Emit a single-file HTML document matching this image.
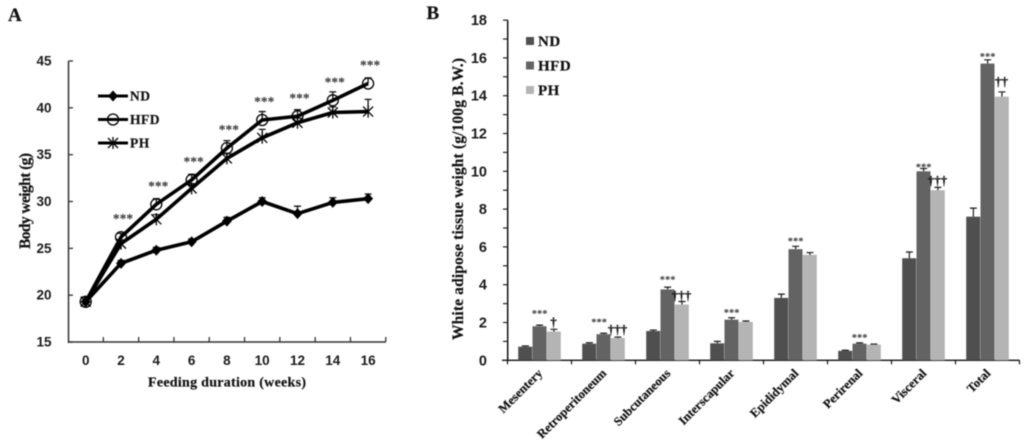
<!DOCTYPE html>
<html lang="en">
<head>
<meta charset="utf-8">
<title>Body weight and white adipose tissue weight charts</title>
<style>
html,body{margin:0;padding:0;background:#fff;width:1024px;height:444px;overflow:hidden}
svg{display:block;filter:blur(.4px)}
.tick{font:bold 13.5px "Liberation Sans",sans-serif;fill:#1a1a1a}
.serif{font-family:"Liberation Serif",serif;font-weight:bold;fill:#111;stroke:#111;stroke-width:.2px}
</style>
</head>
<body>
<svg id="figure" width="1024" height="444" viewBox="0 0 1024 444" xmlns="http://www.w3.org/2000/svg">
  <text class="serif" x="8" y="21" font-size="19">A</text>
  <text class="serif" x="426.5" y="19" font-size="19">B</text>
  <g id="chartA"></g>
  <g id="chartB"></g>
  <text class="serif" x="148" y="386.5" font-size="14" textLength="158">Feeding duration (weeks)</text>
  <text class="serif" transform="translate(30,249) rotate(-90)" font-size="15.5" textLength="96">Body weight (g)</text>
  <text class="serif" transform="translate(463,340) rotate(-90)" font-size="15.5" textLength="282">White adipose tissue weight (g/100g B.W.)</text>
</svg>
<script>
/* Panel A data */
const weeks = [0, 2, 4, 6, 8, 10, 12, 14, 16];
const weightTicks = [15, 20, 25, 30, 35, 40, 45];
const weightND = [19.3, 23.4, 24.8, 25.7, 27.9, 30.0, 28.7, 29.9, 30.3];
const weightHFD = [19.3, 26.2, 29.7, 32.3, 35.7, 38.7, 39.1, 40.8, 42.6];
const weightPH = [19.3, 25.5, 28.1, 31.4, 34.6, 36.8, 38.4, 39.5, 39.6];
const weightErrND = [0.5, 0.3, 0.3, 0.3, 0.4, 0.4, 0.8, 0.5, 0.5];
const weightErrHFD = [0.5, 0.4, 0.6, 0.6, 0.8, 0.9, 0.7, 0.9, 0.6];
const weightErrPH = [0.5, 0.4, 0.5, 0.5, 0.5, 0.9, 0.5, 0.6, 1.3];
const weightSig = ['', '***', '***', '***', '***', '***', '***', '***', '***'];

/* Panel B data */
const depots = ['Mesentery', 'Retroperitoneum', 'Subcutaneous', 'Interscapular', 'Epididymal', 'Perirenal', 'Visceral', 'Total'];
const fatTicks = [0, 2, 4, 6, 8, 10, 12, 14, 16, 18];
const fatND = [0.72, 0.88, 1.55, 0.9, 3.3, 0.5, 5.4, 7.6];
const fatHFD = [1.8, 1.38, 3.75, 2.15, 5.88, 0.88, 10.0, 15.7];
const fatPH = [1.52, 1.18, 2.95, 2.03, 5.58, 0.83, 9.0, 13.95];
const fatErrND = [0.04, 0.05, 0.05, 0.1, 0.2, 0.03, 0.33, 0.45];
const fatErrHFD = [0.06, 0.05, 0.12, 0.1, 0.15, 0.04, 0.15, 0.2];
const fatErrPH = [0.12, 0.05, 0.16, 0.05, 0.12, 0.03, 0.15, 0.25];
const fatSigHFD = ['***', '***', '***', '***', '***', '***', '***', '***'];
const fatSigPH = ['†', '†††', '†††', '', '', '', '†††', '††'];

const NS = 'http://www.w3.org/2000/svg';
function mk(parent, tag, attrs, txt) {
  const el = document.createElementNS(NS, tag);
  for (const k in attrs) el.setAttribute(k, attrs[k]);
  if (txt !== undefined) el.textContent = txt;
  parent.appendChild(el);
  return el;
}

/* ---------- Panel A ---------- */
const A = document.getElementById('chartA');
const ax = w => 85.7 + w * 17.65;
const ay = v => 342 - (v - 15) * 9.367;
const axisCol = '#333';

let el = mk(A, 'line', {x1: 68.5, x2: 68.5, y1: ay(45), y2: ay(15) + 1, stroke: axisCol, 'stroke-width': 1.5});


el = mk(A, 'line', {x1: 68, x2: ax(17), y1: ay(15), y2: ay(15), stroke: axisCol, 'stroke-width': 1.5});



weightTicks.forEach(t => {
  el = mk(A, 'line', {x1: 68.5, x2: 73, y1: ay(t), y2: ay(t), stroke: axisCol, 'stroke-width': 1.3});
  
  
  el = mk(A, 'text', {class: 'tick', x: 51.5, y: ay(t) + 4.5, 'text-anchor': 'end'}, t);
  
  
});
weeks.forEach(w => {
  el = mk(A, 'line', {x1: ax(w + 1), x2: ax(w + 1), y1: ay(15), y2: ay(15) - 5, stroke: axisCol, 'stroke-width': 1.3});
  
  
  el = mk(A, 'text', {class: 'tick', x: ax(w), y: 365, 'text-anchor': 'middle'}, w);
  
  
});

function marker(parent, kind, cx, cy) {
  if (kind === 'ND') {
    return mk(parent, 'polygon', {points: [[cx, cy - 5.5], [cx + 5, cy], [cx, cy + 5.5], [cx - 5, cy]].map(p => p.join(',')).join(' '), fill: '#000'});
  }
  if (kind === 'HFD') {
    return mk(parent, 'circle', {cx: cx, cy: cy, r: 5.5, fill: 'none', stroke: '#000', 'stroke-width': 1.3});
  }
  const d = `M${cx - 5} ${cy - 5}L${cx + 5} ${cy + 5}M${cx - 5} ${cy + 5}L${cx + 5} ${cy - 5}M${cx} ${cy - 6}V${cy + 6}`;
  return mk(parent, 'path', {d: d, fill: 'none', stroke: '#000', 'stroke-width': 1.3});
}

function series(kind, vals, errs) {
  const g = mk(A, 'g', {});
  
  
  vals.forEach((v, i) => {
    const x = ax(weeks[i]), top = ay(v + errs[i]);
    const e = mk(g, 'path', {d: `M${x} ${ay(v)}V${top}M${x - 3.5} ${top}H${x + 3.5}`, fill: 'none', stroke: '#111', 'stroke-width': 1.3});
    
    
  });
  const line = mk(g, 'polyline', {points: vals.map((v, i) => ax(weeks[i]) + ',' + ay(v)).join(' '), fill: 'none', stroke: '#000', 'stroke-width': 3.6, 'stroke-linejoin': 'round'});
  
  
  vals.forEach((v, i) => {
    const m = marker(g, kind, ax(weeks[i]), ay(v));
    
    
  });
}
series('ND', weightND, weightErrND);
series('HFD', weightHFD, weightErrHFD);
series('PH', weightPH, weightErrPH);

weightSig.forEach((s, i) => {
  if (!s) return;
  el = mk(A, 'text', {class: 'serif', x: ax(weeks[i]) + 2, y: ay(weightHFD[i]) - 14, 'font-size': 13.5, 'text-anchor': 'middle', style: 'fill:#333;stroke:none'}, s);
  
  
});

[['ND', 96], ['HFD', 119.5], ['PH', 143]].forEach(r => {
  const g = mk(A, 'g', {});
  
  
  mk(g, 'line', {x1: 98, x2: 128, y1: r[1], y2: r[1], stroke: '#000', 'stroke-width': 3});
  marker(g, r[0], 113, r[1]);
  mk(g, 'text', {class: 'serif', x: 130, y: r[1] + 4.5, 'font-size': 13.5, 'letter-spacing': .5}, r[0]);
});

/* ---------- Panel B ---------- */
const B = document.getElementById('chartB');
const bx = i => 507.5 + i * 64;
const by = v => 360.3 - v * 18.9;
const barW = 14.3;
const barCols = ['#4f4f4f', '#636363', '#b4b4b4'];
const starLift = [13, 13, 9, 7, 7, 7, 3, 5];
const daggerLift = [7, 7, 5.5, 0, 0, 0, 6.4, 10];
const starShift = [0, -4.5, 0, 0, 0, 0, 0, 0];

el = mk(B, 'line', {x1: 507.7, x2: 507.7, y1: by(18), y2: by(0) + 1, stroke: '#111', 'stroke-width': 1.5});


el = mk(B, 'line', {x1: 502, x2: bx(8), y1: by(0), y2: by(0), stroke: '#111', 'stroke-width': 1.4});



for (let v = 1; v <= 18; v += 2) {
  el = mk(B, 'line', {x1: 503, x2: 507.7, y1: by(v), y2: by(v), stroke: '#222', 'stroke-width': 1.2});
  
  
}
fatTicks.forEach(t => {
  el = mk(B, 'line', {x1: 503, x2: 507.7, y1: by(t), y2: by(t), stroke: '#222', 'stroke-width': 1.2});
  
  
  el = mk(B, 'text', {class: 'tick', x: 487, y: by(t) + 5, 'text-anchor': 'end', style: 'font-size:14.5px'}, t);
  
  
});
for (let i = 0; i <= depots.length; i++) {
  el = mk(B, 'line', {x1: bx(i), x2: bx(i), y1: by(0), y2: by(0) + 4, stroke: '#111', 'stroke-width': 1.2});
  
  
}

const fatSeries = [fatND, fatHFD, fatPH];
const fatErrs = [fatErrND, fatErrHFD, fatErrPH];
const seriesNames = ['nd', 'hfd', 'ph'];
depots.forEach((d, i) => {
  const g = mk(B, 'g', {});
  
  
  const start = bx(i) + 10.7;
  fatSeries.forEach((vals, s) => {
    const x = start + s * barW, v = vals[i], c = x + barW / 2, top = by(v + fatErrs[s][i]);
    const r = mk(g, 'rect', {x: x, y: by(v), width: barW - .3, height: by(0) - by(v), fill: barCols[s]});
    
    
    const e = mk(g, 'path', {d: `M${c} ${by(v)}V${top}M${c - 3.5} ${top}H${c + 3.5}`, fill: 'none', stroke: '#1a1a1a', 'stroke-width': 1.2});
    
    
  });
  const cHfd = start + 1.5 * barW, cPh = start + 2.5 * barW;
  if (fatSigHFD[i]) {
    el = mk(g, 'text', {class: 'serif', x: cHfd + starShift[i], y: by(fatHFD[i] + fatErrHFD[i]) - starLift[i] + 5, 'font-size': 10.5, 'text-anchor': 'middle', style: 'fill:#333;stroke:none'}, fatSigHFD[i]);
    
    
  }
  if (fatSigPH[i]) {
    el = mk(g, 'text', {class: 'serif', x: cPh - .5, y: by(fatPH[i] + fatErrPH[i]) - daggerLift[i] + 4, 'font-size': 13, 'text-anchor': 'middle', style: 'fill:#111'}, fatSigPH[i]);
    
    
  }
  const cx = start + 1.5 * barW + 3.5;
  el = mk(g, 'text', {class: 'serif', transform: `translate(${cx},374) rotate(-45)`, 'font-size': 12.5, 'text-anchor': 'end'}, d);
  
  
});

[['ND', 41, barCols[0]], ['HFD', 65.5, barCols[1]], ['PH', 90, barCols[2]]].forEach(r => {
  const g = mk(B, 'g', {});
  
  
  mk(g, 'rect', {x: 526, y: r[1] - 4, width: 8, height: 8, fill: r[2]});
  mk(g, 'text', {class: 'serif', x: 538, y: r[1] + 5, 'font-size': 15, 'letter-spacing': .5}, r[0]);
});
</script>
</body>
</html>
